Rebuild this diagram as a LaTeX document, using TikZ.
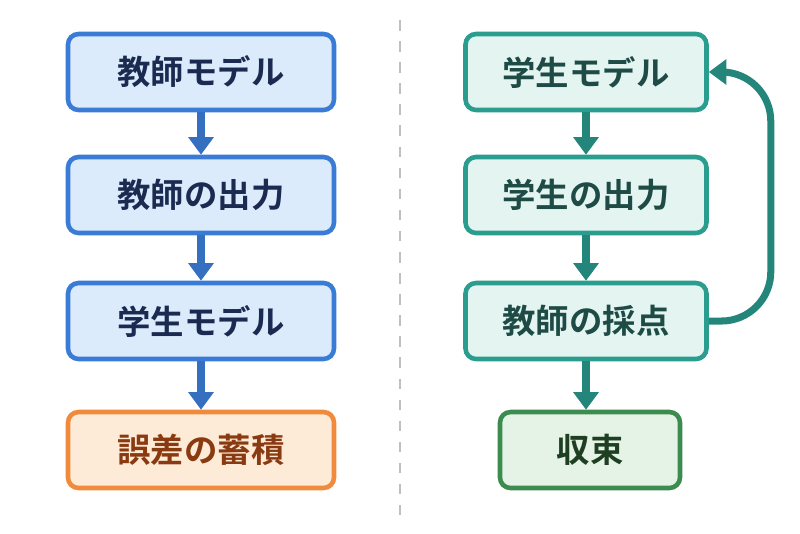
\documentclass[tikz,border=0pt]{standalone}
\usepackage{fontspec}
\newfontfamily\cjk[BoldFont={Noto Sans CJK JP Bold}]{Noto Sans CJK JP}
\usetikzlibrary{arrows.meta, positioning}
\definecolor{bluefill}{HTML}{DCEBFB}
\definecolor{blueline}{HTML}{3A7BD5}
\definecolor{bluetext}{HTML}{1A2A50}
\definecolor{orfill}{HTML}{FDEBD8}
\definecolor{orline}{HTML}{F08A3C}
\definecolor{ortext}{HTML}{8A3A10}
\definecolor{tealfill}{HTML}{E3F4F1}
\definecolor{tealline}{HTML}{2A9D8F}
\definecolor{tealtext}{HTML}{1E4B45}
\definecolor{grfill}{HTML}{E5F3E6}
\definecolor{grline}{HTML}{3C8C50}
\definecolor{grtext}{HTML}{1F3F22}
\tikzset{
  box/.style={draw, line width=1.3pt, rounded corners=3pt, minimum width=2.66cm,
    minimum height=0.76cm, font=\cjk\bfseries\fontsize{9.5}{11}\selectfont},
  bluebox/.style={box, fill=bluefill, draw=blueline, text=bluetext},
  orbox/.style={box, fill=orfill, draw=orline, text=ortext},
  tealbox/.style={box, fill=tealfill, draw=tealline, text=tealtext, minimum width=2.41cm},
  grbox/.style={box, fill=grfill, draw=grline, text=grtext, minimum width=1.8cm},
  bluearr/.style={-{Triangle[length=5pt,width=7pt]}, line width=2pt, draw=blueline!90!black},
  tealarr/.style={-{Triangle[length=5pt,width=7pt]}, line width=2pt, draw=tealline!85!black}
}
\begin{document}
\begin{tikzpicture}
  \useasboundingbox (0,0) rectangle (8,-5.33);
  \draw[gray!50, dashed, line width=0.8pt] (4,-0.2) -- (4,-5.15);
  % left column
  \node[bluebox] (t1) at (2.01,-0.72) {教師モデル};
  \node[bluebox] (t2) at (2.01,-1.95) {教師の出力};
  \node[bluebox] (t3) at (2.01,-3.21) {学生モデル};
  \node[orbox]   (t4) at (2.01,-4.50) {誤差の蓄積};
  \draw[bluearr] (t1) -- (t2);
  \draw[bluearr] (t2) -- (t3);
  \draw[bluearr] (t3) -- (t4);
  % right column
  \node[tealbox] (s1) at (5.86,-0.72) {学生モデル};
  \node[tealbox] (s2) at (5.86,-1.95) {学生の出力};
  \node[tealbox] (s3) at (5.86,-3.21) {教師の採点};
  \node[grbox]   (s4) at (5.90,-4.50) {収束};
  \draw[tealarr] (s1) -- (s2);
  \draw[tealarr] (s2) -- (s3);
  \draw[tealarr] (s3) -- (s3 |- s4.north);
  \draw[tealarr, rounded corners=14pt] (s3.east) -- ++(0.62,0) |- (s1.east);
\end{tikzpicture}
\end{document}
